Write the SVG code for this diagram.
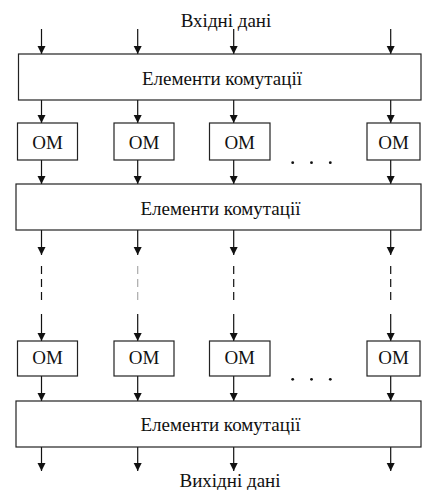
<svg xmlns="http://www.w3.org/2000/svg" width="422" height="490" viewBox="0 0 422 490">
<style>
.box{fill:#fff;stroke:#222;stroke-width:1.2}
.t{font-family:'Liberation Serif','Times New Roman',serif;font-size:19px;fill:#111}
.c{stroke:#111;stroke-width:1.2;fill:none;marker-end:url(#ah)}
.d{stroke:#111;stroke-width:1.2;fill:none;stroke-dasharray:8,5}
.g{stroke:#aaa}
.dot{fill:#111}
</style>
<defs>
<marker id="ah" viewBox="0 0 8 10" refX="8" refY="5" markerWidth="8" markerHeight="10" markerUnits="userSpaceOnUse" orient="auto">
<path d="M0,1 L8,5 L0,9 Z" fill="#111"/>
</marker>
</defs>
<rect width="422" height="490" fill="#fff"/>
<text class="t" x="226" y="27" text-anchor="middle">Вхідні дані</text>
<text class="t" x="230" y="487" text-anchor="middle">Вихідні дані</text>
<g id="connectors">
<line class="c" x1="41.5" y1="29" x2="41.5" y2="54"/><line class="c" x1="137.7" y1="29" x2="137.7" y2="54"/><line class="c" x1="233.7" y1="29" x2="233.7" y2="54"/><line class="c" x1="390.7" y1="29" x2="390.7" y2="54"/>
<line class="c" x1="41.5" y1="100" x2="41.5" y2="123"/><line class="c" x1="137.7" y1="100" x2="137.7" y2="123"/><line class="c" x1="233.7" y1="100" x2="233.7" y2="123"/><line class="c" x1="390.7" y1="100" x2="390.7" y2="123"/>
<line class="c" x1="41.5" y1="160" x2="41.5" y2="184"/><line class="c" x1="137.7" y1="160" x2="137.7" y2="184"/><line class="c" x1="233.7" y1="160" x2="233.7" y2="184"/><line class="c" x1="390.7" y1="160" x2="390.7" y2="184"/>
<line class="c" x1="41.5" y1="230" x2="41.5" y2="255"/><line class="c" x1="137.7" y1="230" x2="137.7" y2="255"/><line class="c" x1="233.7" y1="230" x2="233.7" y2="255"/><line class="c" x1="390.7" y1="230" x2="390.7" y2="255"/>
<line class="d" x1="41.5" y1="266" x2="41.5" y2="304"/><line class="d g" x1="137.7" y1="266" x2="137.7" y2="304"/><line class="d" x1="233.7" y1="266" x2="233.7" y2="304"/><line class="d" x1="390.7" y1="266" x2="390.7" y2="304"/>
<line class="c" x1="41.5" y1="314" x2="41.5" y2="341"/><line class="c" x1="137.7" y1="314" x2="137.7" y2="341"/><line class="c" x1="233.7" y1="314" x2="233.7" y2="341"/><line class="c" x1="390.7" y1="314" x2="390.7" y2="341"/>
<line class="c" x1="41.5" y1="376" x2="41.5" y2="401"/><line class="c" x1="137.7" y1="376" x2="137.7" y2="401"/><line class="c" x1="233.7" y1="376" x2="233.7" y2="401"/><line class="c" x1="390.7" y1="376" x2="390.7" y2="401"/>
<line class="c" x1="41.5" y1="447" x2="41.5" y2="471"/><line class="c" x1="137.7" y1="447" x2="137.7" y2="471"/><line class="c" x1="233.7" y1="447" x2="233.7" y2="471"/><line class="c" x1="390.7" y1="447" x2="390.7" y2="471"/>
</g>
<g id="switch1"><rect class="box" x="18.5" y="54" width="402.5" height="46"/><text class="t" x="222" y="84.5" text-anchor="middle">Елементи комутації</text></g>
<g id="om1a"><rect class="box" x="17.5" y="123" width="60" height="37"/><text class="t" x="47.5" y="148.5" text-anchor="middle">ОМ</text></g>
<g id="om1b"><rect class="box" x="114" y="123" width="60" height="37"/><text class="t" x="144" y="148.5" text-anchor="middle">ОМ</text></g>
<g id="om1c"><rect class="box" x="209.5" y="123" width="60.5" height="37"/><text class="t" x="239.7" y="148.5" text-anchor="middle">ОМ</text></g>
<g id="om1d"><rect class="box" x="367" y="123" width="53" height="37"/><text class="t" x="393.5" y="148.5" text-anchor="middle">ОМ</text></g>
<g id="dots1"><circle class="dot" cx="292.7" cy="162.7" r="1.4"/><circle class="dot" cx="311.5" cy="162.7" r="1.4"/><circle class="dot" cx="330.3" cy="162.7" r="1.4"/></g>
<g id="switch2"><rect class="box" x="16" y="184" width="405" height="46"/><text class="t" x="220.5" y="215" text-anchor="middle">Елементи комутації</text></g>
<g id="om2a"><rect class="box" x="17.5" y="341" width="60" height="35"/><text class="t" x="47.5" y="364" text-anchor="middle">ОМ</text></g>
<g id="om2b"><rect class="box" x="114" y="341" width="60" height="35"/><text class="t" x="144" y="364" text-anchor="middle">ОМ</text></g>
<g id="om2c"><rect class="box" x="209.5" y="341" width="60.5" height="35"/><text class="t" x="239.7" y="364" text-anchor="middle">ОМ</text></g>
<g id="om2d"><rect class="box" x="367" y="341" width="53" height="35"/><text class="t" x="393.5" y="364" text-anchor="middle">ОМ</text></g>
<g id="dots2"><circle class="dot" cx="292.7" cy="379.3" r="1.4"/><circle class="dot" cx="311.5" cy="379.3" r="1.4"/><circle class="dot" cx="330.3" cy="379.3" r="1.4"/></g>
<g id="switch3"><rect class="box" x="16" y="401" width="405" height="46"/><text class="t" x="220.5" y="431" text-anchor="middle">Елементи комутації</text></g>
</svg>
